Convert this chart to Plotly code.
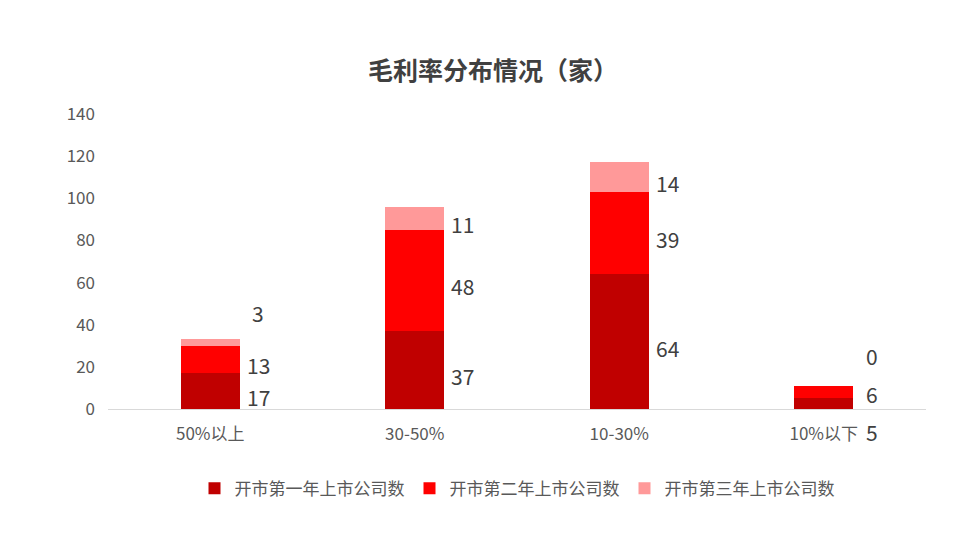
import plotly.graph_objects as go

categories = ["50%以上", "30-50%", "10-30%", "10%以下"]
series_names = ["开市第一年上市公司数", "开市第二年上市公司数", "开市第三年上市公司数"]
year1 = [17, 37, 64, 5]
year2 = [13, 48, 39, 6]
year3 = [3, 11, 14, 0]
colors = ["#C00000", "#FF0000", "#FF9999"]

fig = go.Figure()
for name, vals, c in zip(series_names, [year1, year2, year3], colors):
    fig.add_trace(go.Bar(x=categories, y=vals, name=name, marker_color=c,
                         marker_line_width=0, width=0.29))

# value labels to the right of each segment
for i, cat in enumerate(categories):
    base = 0
    for vals in [year1, year2, year3]:
        v = vals[i]
        mid = base + v / 2
        base += v
        ys = -6
        if cat == "50%以上" and vals is year3:
            ys = 30
        if cat == "10%以下":
            ys = {id(year1): -28, id(year2): -2, id(year3): 30}[id(vals)]
        fig.add_annotation(x=cat, y=mid, text=str(v), showarrow=False,
                           xshift=48, yshift=ys,
                           font=dict(size=21, color="#404040"))

fig.update_layout(
    width=970, height=544,
    barmode="stack",
    paper_bgcolor="white", plot_bgcolor="white",
    font=dict(family="Noto Sans CJK SC, Noto Sans, sans-serif", color="#595959"),
    title=dict(text="<b>毛利率分布情况（家）</b>", x=0.5, y=0.9, xanchor="center",
               font=dict(size=25, color="#404040")),
    margin=dict(l=100, r=52, t=106, b=143),
    legend=dict(orientation="h", x=0.5, xanchor="center", y=-0.27, yanchor="middle",
                traceorder="normal", font=dict(size=17, color="#595959")),
    xaxis=dict(showline=True, linecolor="#D9D9D9", tickfont=dict(size=17),
               ticks="outside", ticklen=10, tickcolor="white"),
    yaxis=dict(range=[0, 140], dtick=20, showgrid=False, zeroline=False,
               tickfont=dict(size=17), ticklabelstandoff=12),
)
fig.write_html("out.html")
